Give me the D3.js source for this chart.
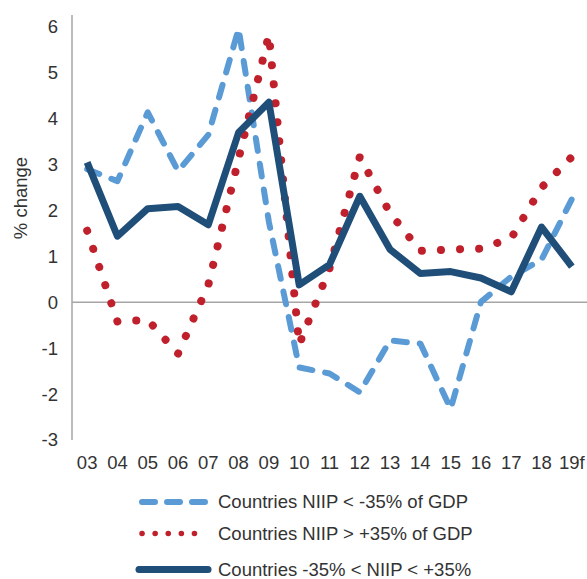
<!DOCTYPE html>
<html>
<head>
<meta charset="utf-8">
<style>
    html, body { margin: 0; padding: 0; background: #fff; }
    svg { display: block; font-family: 'Liberation Sans', Arial, sans-serif; }
</style>
<script src="https://cdn.jsdelivr.net/npm/d3@7.9.0/dist/d3.min.js"></script>
</head>
<body>
<svg id="chart" width="587" height="579"></svg>
<script>
var YEARS = ['03', '04', '05', '06', '07', '08', '09', '10', '11', '12', '13', '14', '15', '16', '17', '18', '19f']
var NIIP_LOW = [2.9, 2.64, 4.14, 2.86, 3.65, 5.96, 1.75, -1.42, -1.55, -1.96, -0.83, -0.9, -2.32, 0.01, 0.56, 0.93, 2.25]
var NIIP_HIGH = [1.56, -0.42, -0.38, -1.12, 0.38, 3.13, 5.83, -0.92, 0.74, 3.17, 1.94, 1.12, 1.15, 1.17, 1.4, 2.5, 3.17]
var NIIP_MID = [3.05, 1.44, 2.04, 2.09, 1.69, 3.7, 4.36, 0.38, 0.82, 2.31, 1.15, 0.63, 0.67, 0.53, 0.23, 1.64, 0.78]
var Y_TICKS = [-3, -2, -1, 0, 1, 2, 3, 4, 5, 6]
var LEGEND = [
    'Countries NIIP < -35% of GDP',
    'Countries NIIP > +35% of GDP',
    'Countries -35% < NIIP < +35%'
]

;(function () {
    var svg = d3.select('#chart')
    var TEXT = '#333333'
    var AXIS = '#a6a6a6'
    var FS = 18.5

    // series styles: dashed light blue, dotted red, solid navy
    var STYLES = [
        { color: '#5b9bd5', width: 6, dash: '13 13', legDash: '13 12', legWidth: 6 },
        { color: '#c0202b', width: 8, dash: '0.1 19', legDash: '0.1 13', legWidth: 5.5 },
        { color: '#1f4e79', width: 7, dash: null, legDash: null, legWidth: 7 }
    ]
    var SERIES = [NIIP_LOW, NIIP_HIGH, NIIP_MID]

    var x = d3.scaleBand().domain(YEARS).range([72, 587])
    var y = d3.scaleLinear().domain([-3, 6.26]).range([440, 15])

    function cx(d, i) {
        return x(YEARS[i]) + x.bandwidth() / 2
    }

    // y axis line + zero line
    svg.append('line')
        .attr('x1', x.range()[0]).attr('x2', x.range()[0])
        .attr('y1', y.range()[1]).attr('y2', y.range()[0])
        .attr('stroke', AXIS).attr('stroke-width', 1.5)

    svg.append('line')
        .attr('x1', x.range()[0]).attr('x2', x.range()[1])
        .attr('y1', y(0)).attr('y2', y(0))
        .attr('stroke', AXIS).attr('stroke-width', 1.5)

    svg.append('g')
        .selectAll('text')
        .data(Y_TICKS)
        .join('text')
        .attr('x', 58)
        .attr('y', function (d) { return y(d) })
        .attr('dy', '0.35em')
        .attr('text-anchor', 'end')
        .attr('font-size', FS)
        .attr('fill', TEXT)
        .text(function (d) { return d })

    svg.append('g')
        .selectAll('text')
        .data(YEARS)
        .join('text')
        .attr('x', function (d) { return x(d) + x.bandwidth() / 2 })
        .attr('y', 469)
        .attr('text-anchor', 'middle')
        .attr('font-size', FS)
        .attr('fill', TEXT)
        .text(function (d) { return d })

    svg.append('text')
        .attr('transform', 'translate(27,198) rotate(-90)')
        .attr('text-anchor', 'middle')
        .attr('font-size', FS)
        .attr('fill', TEXT)
        .text('% change')

    var line = d3.line()
        .x(cx)
        .y(function (d) { return y(d) })

    SERIES.forEach(function (vals, k) {
        var s = STYLES[k]
        svg.append('path')
            .datum(vals)
            .attr('d', line)
            .attr('fill', 'none')
            .attr('stroke', s.color)
            .attr('stroke-width', s.width)
            .attr('stroke-linecap', s.dash ? 'round' : 'butt')
            .attr('stroke-linejoin', 'round')
            .attr('stroke-dasharray', s.dash)
    })

    // legend
    var LEG_Y = [502, 533.5, 569.5]
    LEGEND.forEach(function (label, k) {
        var s = STYLES[k]
        var ly = LEG_Y[k]
        svg.append('line')
            .attr('x1', s.legDash ? 142 : 139)
            .attr('x2', s.legDash ? 206 : 208)
            .attr('y1', ly).attr('y2', ly)
            .attr('stroke', s.color)
            .attr('stroke-width', s.legWidth)
            .attr('stroke-linecap', 'round')
            .attr('stroke-dasharray', s.legDash)
        svg.append('text')
            .attr('x', 218)
            .attr('y', ly)
            .attr('dy', '0.35em')
            .attr('font-size', FS)
            .attr('fill', TEXT)
            .text(label)
    })
})()
</script>
</body>
</html>
